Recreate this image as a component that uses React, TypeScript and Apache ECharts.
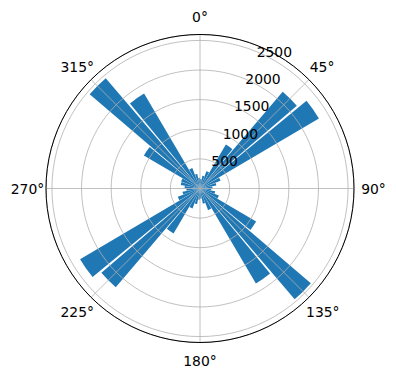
import { useEffect, useRef } from 'react';
import * as echarts from 'echarts';

// Bin centres in compass degrees (10° bins)
const binCenters = [
  5, 15, 25, 35, 45, 55, 65, 75, 85, 95, 105, 115,
  125, 135, 145, 155, 165, 175, 185, 195, 205, 215, 225, 235,
  245, 255, 265, 275, 285, 295, 305, 315, 325, 335, 345, 355,
];
// Counts per bin
const counts = [
  160, 220, 310, 860, 2150, 2330, 370, 280, 210, 190, 260, 340,
  1100, 2460, 1860, 390, 260, 170, 190, 270, 360, 880, 2190, 2350,
  400, 300, 230, 260, 330, 340, 1100, 2450, 1860, 370, 250, 180,
];
const angleTicks = [0, 45, 90, 135, 180, 225, 270, 315];
const radiusTicks = [500, 1000, 1500, 2000, 2500];
const radiusMax = 2600;

const CX = 200;
const CY = 188.5;
const R = 154;
const FONT = 'DejaVu Sans';
const FS = 13.9;

// padding [top, right, bottom, left] to centre each angle label like matplotlib
const anglePad: Record<number, number[]> = {
  0: [0, 0, 15, 0],
  45: [0, 0, 8, 3.7],
  90: [0, 0, 0, 11.2],
  135: [10, 0, 0, 0],
  180: [15.5, 0, 0, 0],
  225: [10, 0, 0, 0],
  270: [0, 5.8, 0, 0],
  315: [0, 0, 8, 0],
};

export default function App() {
  const ref = useRef<HTMLDivElement>(null);
  useEffect(() => {
    if (!ref.current) return;
    const chart = echarts.init(ref.current, undefined, { renderer: 'svg' });
    const rich: Record<string, any> = {};
    angleTicks.forEach((t) => {
      rich['a' + t] = { padding: anglePad[t], fontFamily: FONT, fontSize: FS, color: '#000' };
    });
    const option: any = {
      animation: false,
      polar: [
        { center: [CX, CY], radius: R },
        { center: [CX, CY], radius: R },
        { center: [CX, CY], radius: R },
      ],
      angleAxis: [
        {
          polarIndex: 0, type: 'category', data: binCenters.map(String),
          startAngle: 90, clockwise: true, boundaryGap: true, z: 1,
          axisLine: { show: false }, axisTick: { show: false },
          axisLabel: { show: false }, splitLine: { show: false },
        },
        {
          polarIndex: 1, type: 'value', min: 0, max: 360, interval: 45,
          startAngle: 90, clockwise: true, z: 11,
          axisLine: { show: true, lineStyle: { color: '#000', width: 1 } },
          axisTick: { show: false },
          splitLine: { show: true, lineStyle: { color: '#b0b0b0', width: 0.8 } },
          axisLabel: {
            show: true, margin: -4, fontFamily: FONT, fontSize: FS, color: '#000',
            formatter: (v: number) => (angleTicks.indexOf(v) >= 0 ? `{a${v}|${v}°}` : ''),
            rich,
          },
        },
        {
          polarIndex: 2, type: 'value', min: 0, max: 360, startAngle: 67.5, show: false,
        },
      ],
      radiusAxis: [
        { polarIndex: 0, type: 'value', min: 0, max: radiusMax, show: false },
        {
          polarIndex: 1, type: 'value', min: 0, max: radiusMax, interval: 500, z: 10,
          axisLine: { show: false }, axisTick: { show: false }, axisLabel: { show: false },
          splitLine: { show: true, lineStyle: { color: '#b0b0b0', width: 0.8 } },
        },
        {
          polarIndex: 2, type: 'value', min: 0, max: radiusMax, interval: 500, z: 12,
          axisLine: { show: false }, axisTick: { show: false }, splitLine: { show: false },
          axisLabel: {
            show: true, margin: 0, align: 'left', verticalAlign: 'middle',
            padding: [0, 0, 10, 0], fontFamily: FONT, fontSize: FS, color: '#000',
            formatter: (v: number) => (radiusTicks.indexOf(v) >= 0 ? String(v) : ''),
          },
        },
      ],
      series: [
        {
          type: 'bar', coordinateSystem: 'polar', polarIndex: 0,
          data: counts, barCategoryGap: '10%', z: 2,
          itemStyle: { color: '#1f77b4' },
        },
      ],
    };
    chart.setOption(option);
    return () => chart.dispose();
  }, []);
  return (
    <div
      ref={ref}
      style={{ position: 'fixed', left: 0, top: 0, width: 396, height: 380, background: '#fff' }}
    />
  );
}
